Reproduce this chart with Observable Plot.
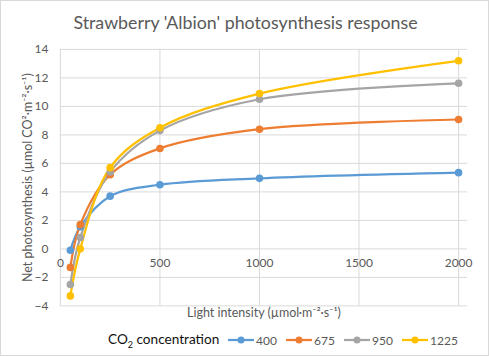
<!DOCTYPE html>
<html>
<head>
<meta charset="utf-8">
<script src="https://cdn.jsdelivr.net/npm/d3@7"></script>
<script src="https://cdn.jsdelivr.net/npm/@observablehq/plot@0.6"></script>
<style>
  html, body { margin: 0; padding: 0; background: #fff; }
  #chart { position: relative; width: 489px; height: 356px; box-sizing: border-box; border: 1px solid #D9D9D9; overflow: hidden; font-family: Lato, "Noto Sans", sans-serif; }
  #plot { position: absolute; left: -1px; top: -1px; }
  #title { position: absolute; left: 0; width: 489px; top: 10px; text-align: center; font-size: 17.8px; color: #595959; }
  #legend { position: absolute; left: 107px; top: 330px; display: flex; align-items: center; font-size: 12px; color: #595959; }
  #legend .lt { font-size: 13.6px; color: #111; width: 120px; white-space: nowrap; }
  #legend .item { display: flex; align-items: center; width: 58px; }
  #legend svg { margin-right: 2px; }
</style>
</head>
<body>
<div id="chart">
  <div id="title">Strawberry 'Albion' photosynthesis response</div>
  <div id="plot"></div>
  <div id="legend"></div>
</div>
<script>
const lightLevels = [50, 100, 250, 500, 1000, 2000];
const co2Levels = ["400", "675", "950", "1225"];
const series400 = [-0.1, 1.55, 3.7, 4.5, 4.95, 5.35];
const series675 = [-1.3, 1.7, 5.2, 7.05, 8.4, 9.08];
const series950 = [-2.5, 0.8, 5.4, 8.3, 10.5, 11.62];
const series1225 = [-3.3, 0.0, 5.7, 8.5, 10.9, 13.2];
const colors = ["#5B9BD5", "#ED7D31", "#A5A5A5", "#FFC000"];
const xTicks = [0, 500, 1000, 1500, 2000];
const yTicks = [-4, -2, 0, 2, 4, 6, 8, 10, 12, 14];

const allSeries = [series400, series675, series950, series1225];
const data = [];
allSeries.forEach((s, i) => s.forEach((v, j) => data.push({co2: co2Levels[i], light: lightLevels[j], pn: v})));

const plot = Plot.plot({
  width: 489,
  height: 356,
  marginLeft: 60,
  marginRight: 21,
  marginTop: 49,
  marginBottom: 50,
  style: {fontFamily: "Lato, 'Noto Sans', sans-serif", fontSize: "12px", color: "#595959", background: "transparent"},
  x: {domain: [0, 2045], axis: null},
  y: {domain: [-4, 14], axis: null},
  color: {domain: co2Levels, range: colors},
  marks: [
    Plot.gridY(yTicks, {stroke: "#D9D9D9", strokeOpacity: 1}),
    Plot.gridX(xTicks, {stroke: "#D9D9D9", strokeOpacity: 1}),
    Plot.axisY(yTicks, {tickSize: 0, tickPadding: 12, label: null, fill: "#595959"}),
    Plot.text(xTicks, {x: d => d, y: 0, dy: 14, text: d => String(d), fill: "#595959"}),
    Plot.text(["Net photosynthesis (µmol CO²·m⁻²·s⁻¹)"], {frameAnchor: "left", textAnchor: "middle", dx: -32, rotate: -90, text: d => d, fill: "#595959", fontSize: 12.5}),
    Plot.text(["Light intensity (µmol·m⁻²·s⁻¹)"], {frameAnchor: "bottom", dy: 11, text: d => d, fill: "#595959", fontSize: 12.5}),
    Plot.line(data, {x: "light", y: "pn", z: "co2", stroke: "co2", strokeWidth: 2.25, curve: "catmull-rom"}),
    Plot.dot(data, {x: "light", y: "pn", fill: "co2", r: 3.8})
  ]
});
document.getElementById("plot").appendChild(plot);

const legend = document.getElementById("legend");
legend.innerHTML = '<span class="lt">CO<sub style="font-size:9px">2</sub> concentration</span>' +
  co2Levels.map((c, i) => `<span class="item"><svg width="26" height="10"><line x1="0" y1="5" x2="26" y2="5" stroke="${colors[i]}" stroke-width="2.25"/><circle cx="13" cy="5" r="3.5" fill="${colors[i]}"/></svg>${c}</span>`).join("");
</script>
</body>
</html>
